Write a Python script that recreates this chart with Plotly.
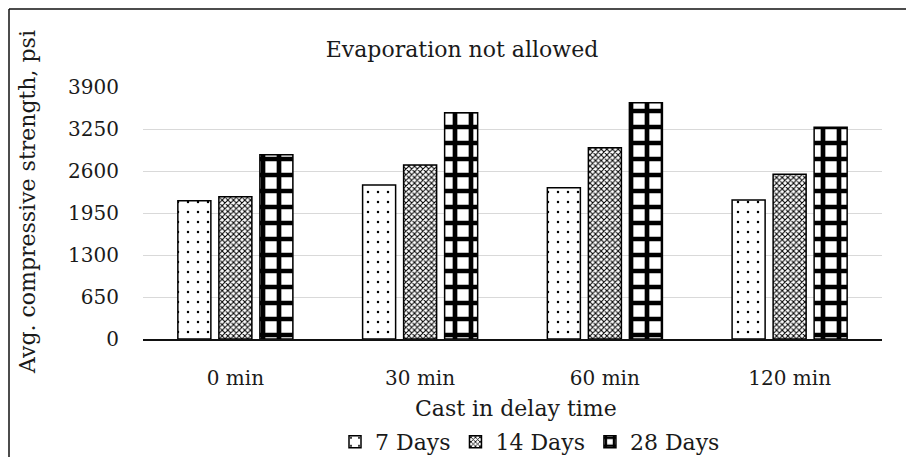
import plotly.graph_objects as go

categories = ["0 min", "30 min", "60 min", "120 min"]
series_names = ["7 Days", "14 Days", "28 Days"]
days7 = [2140, 2383, 2341, 2151]
days14 = [2202, 2693, 2960, 2549]
days28 = [2852, 3502, 3657, 3276]
y_ticks = [0, 650, 1300, 1950, 2600, 3250, 3900]

FONT = "DejaVu Serif"
TXT = "#1a1a1a"

patterns = [
    dict(shape=".", size=10, solidity=0.05, fgcolor="black", bgcolor="white", fillmode="replace"),
    dict(shape="x", size=4, solidity=0.45, fgcolor="black", bgcolor="white", fillmode="replace"),
    dict(shape="+", size=16, solidity=0.5, fgcolor="black", bgcolor="white", fillmode="replace"),
]

fig = go.Figure()
for name, vals, pat in zip(series_names, [days7, days14, days28], patterns):
    fig.add_trace(go.Bar(
        x=categories, y=vals, name=name,
        marker=dict(color="white", pattern=pat, line=dict(color="black", width=1.5)),
    ))

W, H = 906, 457
L, R, T, B = 143, 24, 87, 118
pw, ph = W - L - R, H - T - B

def px(x):
    return (x - L) / pw

def py(y):
    return (H - B - y) / ph

fig.update_layout(
    width=W, height=H,
    margin=dict(l=L, r=R, t=T, b=B),
    paper_bgcolor="white", plot_bgcolor="white",
    barmode="group", bargap=0.334, bargroupgap=0.195,
    font=dict(family=FONT, size=22, color=TXT),
    title=dict(text="Evaporation not allowed", x=462 / W, xanchor="center", xref="container",
               y=1 - 49 / H, yanchor="middle", yref="container",
               font=dict(family=FONT, size=22, color=TXT)),
    showlegend=True,
    legend=dict(orientation="h", xref="paper", x=px(530), xanchor="center",
                yref="container", y=(H - 442) / H, yanchor="middle",
                font=dict(family=FONT, size=22, color=TXT), traceorder="normal",
                itemwidth=30, bgcolor="rgba(0,0,0,0)"),
    xaxis=dict(
        showgrid=False, showline=True, linecolor="#111", linewidth=1.5,
        ticks="", ticklabelstandoff=20,
        tickfont=dict(family=FONT, size=20, color=TXT),
    ),
    yaxis=dict(
        range=[0, 3900], tickvals=y_ticks, ticktext=[str(v) for v in y_ticks],
        showgrid=True, gridcolor="#d9d9d9", gridwidth=1.2,
        showline=False, zeroline=False, ticks="", ticklabelstandoff=23,
        tickfont=dict(family=FONT, size=20, color=TXT),
    ),
    annotations=[
        dict(text="Cast in delay time", xref="paper", yref="paper", x=px(516), y=py(408),
             xanchor="center", yanchor="middle", showarrow=False,
             font=dict(family=FONT, size=22, color=TXT)),
        dict(text="Avg. compressive strength, psi", xref="paper", yref="paper", x=px(27), y=py(202),
             xanchor="center", yanchor="middle", showarrow=False, textangle=-90,
             font=dict(family=FONT, size=22, color=TXT)),
    ],
    shapes=[
        dict(type="line", xref="paper", yref="paper", x0=px(9), x1=px(9), y0=py(9), y1=py(H + 10),
             line=dict(color="#111", width=1.5)),
        dict(type="line", xref="paper", yref="paper", x0=px(9), x1=px(W + 10), y0=py(9), y1=py(9),
             line=dict(color="#111", width=1.5)),
    ],
)

fig.write_html(
    "out.html",
    config={"displayModeBar": False},
    post_script=("document.body.style.margin='0';"
                 "document.documentElement.style.overflow='hidden';"
                 "document.body.style.overflow='hidden';"),
)
